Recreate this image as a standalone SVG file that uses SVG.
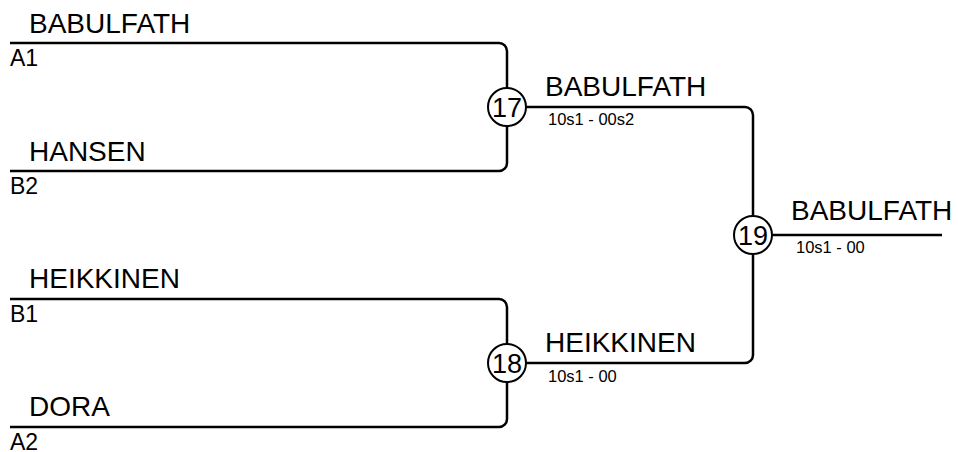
<svg xmlns="http://www.w3.org/2000/svg" width="958" height="452" viewBox="0 0 958 452">
<style>
.ln{fill:none;stroke:#000;stroke-width:2.5}
.c{fill:#fff;stroke:#000;stroke-width:2}
text{font-family:"Liberation Sans",Arial,sans-serif;fill:#000}
.nm{font-size:28px}
.sl{font-size:23px}
.sc{font-size:16.5px}
.num{font-size:27px;text-anchor:middle}
</style>
<rect width="958" height="452" fill="#fff"/>
<g id="connectors">
<path class="ln" d="M10,43 H499 A8,8 0 0 1 507,51 V163 A8,8 0 0 1 499,171 H10"/>
<path class="ln" d="M10,299 H499 A8,8 0 0 1 507,307 V419 A8,8 0 0 1 499,427 H10"/>
<path class="ln" d="M507,107 H745 A8,8 0 0 1 753,115 V355 A8,8 0 0 1 745,363 H507"/>
<path class="ln" d="M753,235 H942"/>
</g>
<g id="slot-a1"><text class="nm" x="29" y="33">BABULFATH</text><text class="sl" x="10" y="66">A1</text></g>
<g id="slot-b2"><text class="nm" x="29" y="161">HANSEN</text><text class="sl" x="10" y="194">B2</text></g>
<g id="slot-b1"><text class="nm" x="29" y="288">HEIKKINEN</text><text class="sl" x="10" y="322">B1</text></g>
<g id="slot-a2"><text class="nm" x="29" y="416">DORA</text><text class="sl" x="10" y="450">A2</text></g>
<g id="match-17"><circle class="c" cx="507" cy="107" r="19"/><text class="num" x="507" y="117">17</text>
<text class="nm" x="545" y="96">BABULFATH</text><text class="sc" x="548" y="125">10s1 - 00s2</text></g>
<g id="match-18"><circle class="c" cx="507" cy="363" r="19"/><text class="num" x="507" y="373">18</text>
<text class="nm" x="545" y="352">HEIKKINEN</text><text class="sc" x="548" y="382">10s1 - 00</text></g>
<g id="match-19"><circle class="c" cx="753" cy="235" r="19"/><text class="num" x="753" y="245">19</text>
<text class="nm" x="791" y="220">BABULFATH</text><text class="sc" x="796" y="253">10s1 - 00</text></g>
</svg>
